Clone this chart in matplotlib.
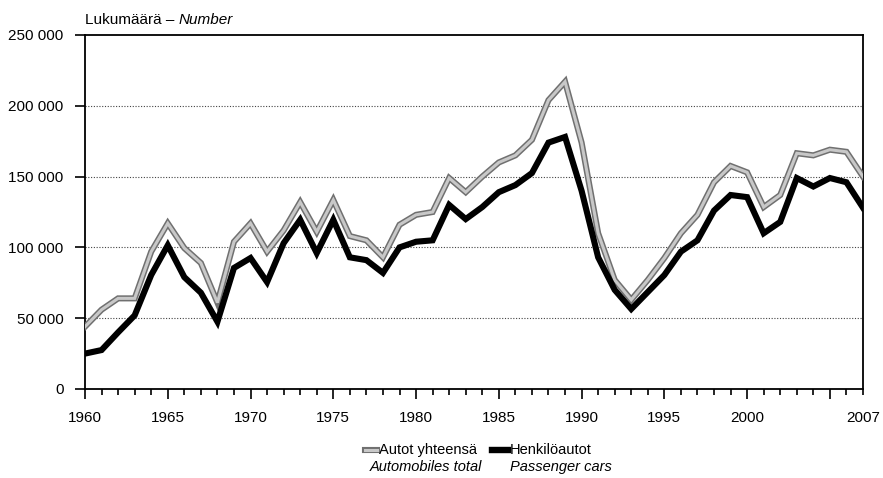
import matplotlib
matplotlib.use('Agg')
import matplotlib.pyplot as plt
from matplotlib.lines import Line2D

plt.rcParams['font.family'] = ['Liberation Sans', 'DejaVu Sans']

years = list(range(1960, 2008))

# Autot yhteensä - Automobiles total
total = [44000, 56000, 64000, 64000, 97000, 117000, 99500, 89000, 61000, 104000,
         117000, 97000, 112000, 132000, 111000, 133500, 108000, 105000, 93000, 116000,
         123000, 125000, 149000, 139000, 150000, 160000, 165000, 176000, 204000, 217000,
         174000, 110000, 77000, 63000, 77000, 92500, 110000, 123000, 146000, 157500,
         153000, 128500, 137000, 166500, 165000, 169000, 167500, 150000]

# Henkilöautot - Passenger cars
cars = [25000, 27500, 40000, 52000, 80500, 101500, 79000, 68000, 47500, 85500,
        92500, 75500, 103000, 119500, 96000, 119500, 93000, 91000, 82000, 100000,
        104000, 105000, 130000, 120000, 128500, 139000, 144000, 152500, 174000, 178000,
        140000, 93000, 70000, 56500, 68500, 80500, 97000, 105000, 126000, 137000,
        135500, 110000, 118000, 149000, 143000, 149000, 146000, 128000]

y_ticks = [0, 50000, 100000, 150000, 200000, 250000]
y_labels = ['0', '50 000', '100 000', '150 000', '200 000', '250 000']
x_ticks = [1960, 1965, 1970, 1975, 1980, 1985, 1990, 1995, 2000, 2005, 2007]
x_labels = ['1960', '1965', '1970', '1975', '1980', '1985', '1990', '1995', '2000', '', '2007']

fig = plt.figure(figsize=(8.83, 4.78), dpi=100)
ax = fig.add_axes([85/883, 1 - 389/478, 778/883, 354/478])

# total: hatched grey look (dark edge + light core)
ax.plot(years, total, color='#707070', lw=4.4, solid_joinstyle='miter', zorder=3)
ax.plot(years, total, color='#c8c8c8', lw=2.2, solid_joinstyle='miter', zorder=4)
ax.plot(years, cars, color='black', lw=4.4, solid_joinstyle='miter', zorder=5)

ax.set_xlim(1960, 2007)
ax.set_ylim(0, 250000)
ax.set_yticks(y_ticks)
ax.set_yticklabels(y_labels)
ax.set_xticks(x_ticks)
ax.set_xticklabels(x_labels)
ax.set_xticks(years, minor=True)

ax.tick_params(axis='y', direction='out', length=7.5, width=1.2, pad=8, labelsize=11)
ax.tick_params(axis='x', which='major', direction='out', length=7, width=1.2, pad=9, labelsize=11)
ax.tick_params(axis='x', which='minor', direction='out', length=4, width=1.2)
ax.xaxis.get_major_ticks()[-1].tick1line.set_markersize(4)

for s in ax.spines.values():
    s.set_linewidth(1.3)
    s.set_color('black')

for v in y_ticks[1:-1]:
    ax.axhline(v, color='#444444', lw=0.8, ls=(0, (1, 1.5)), zorder=1)

t1 = fig.text(85/883, 1 - 20/478, 'Lukumäärä – ', fontsize=11, va='center', ha='left')
ax.annotate('Number', xy=(1, 0.5), xycoords=t1, fontsize=11, style='italic',
            va='center', ha='left', annotation_clip=False)

# legend
ly1 = 1 - 450/478
ly2 = 1 - 467/478
fig.add_artist(Line2D([365/883, 377/883], [ly1, ly1], color='#707070', lw=4.4))
fig.add_artist(Line2D([365/883, 377/883], [ly1, ly1], color='#c8c8c8', lw=2.2))
fig.text(379/883, ly1, 'Autot yhteensä', fontsize=10.5, va='center', ha='left')
fig.text(370/883, ly2, 'Automobiles total', fontsize=10.5, style='italic', va='center', ha='left')
fig.add_artist(Line2D([492/883, 508/883], [ly1, ly1], color='black', lw=4.6))
fig.text(510/883, ly1, 'Henkilöautot', fontsize=10.5, va='center', ha='left')
fig.text(510/883, ly2, 'Passenger cars', fontsize=10.5, style='italic', va='center', ha='left')

fig.savefig('out.png', dpi=100)
